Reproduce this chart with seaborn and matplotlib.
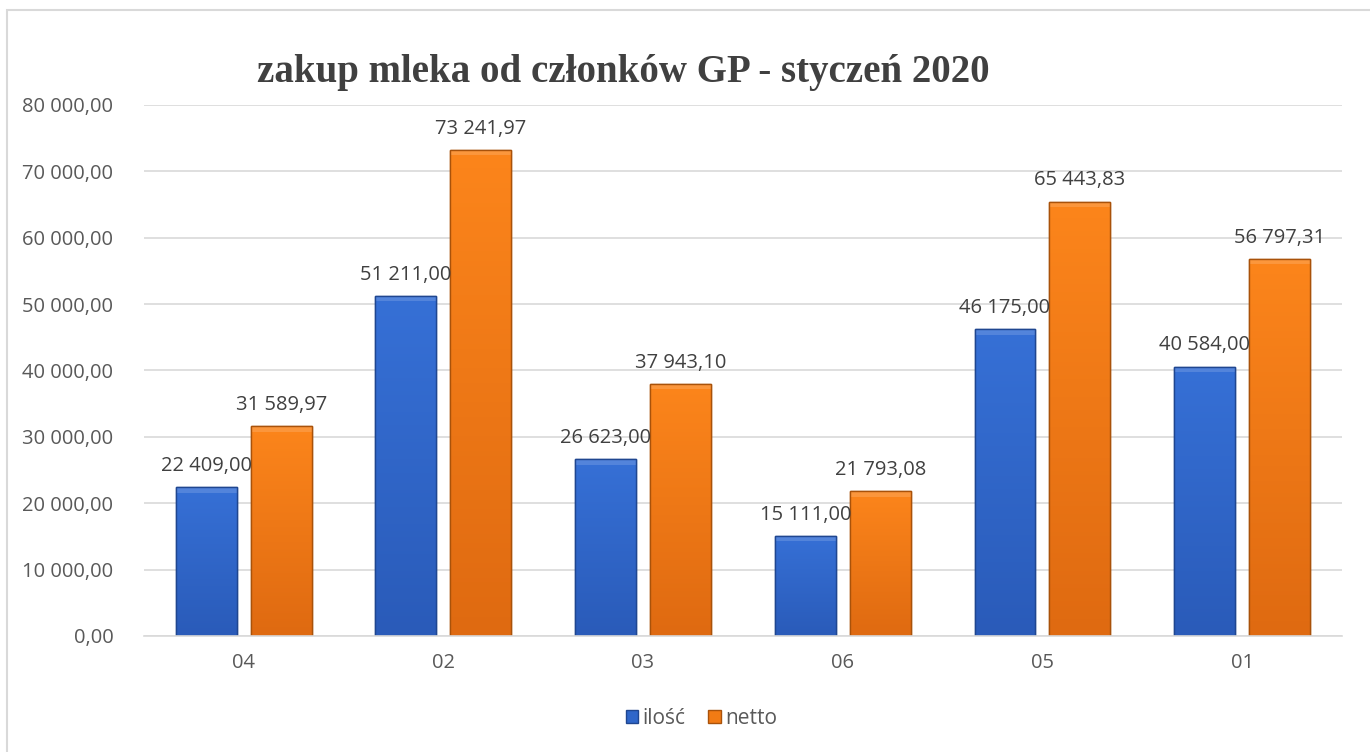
import numpy as np
import pandas as pd
import matplotlib
matplotlib.use('Agg')
import matplotlib.pyplot as plt
from matplotlib.patches import Rectangle
from matplotlib.colors import LinearSegmentedColormap
import seaborn as sns

# data
categories = ['04', '02', '03', '06', '05', '01']
ilosc = [22409.00, 51211.00, 26623.00, 15111.00, 46175.00, 40584.00]
netto = [31589.97, 73241.97, 37943.10, 21793.08, 65443.83, 56797.31]
series_names = ['ilość', 'netto']
y_ticks = [0, 10000, 20000, 30000, 40000, 50000, 60000, 70000, 80000]


def pl_fmt(v):
    s = f"{v:,.2f}"
    return s.replace(',', ' ').replace('.', ',')


df = pd.DataFrame({
    'kat': categories * 2,
    'seria': [series_names[0]] * len(categories) + [series_names[1]] * len(categories),
    'wartosc': ilosc + netto,
})

sns.set_theme(style='white')
plt.rcParams['font.family'] = ['Open Sans', 'DejaVu Sans']

fig = plt.figure(figsize=(13.7, 7.52), dpi=100)
ax = fig.add_axes([0.105, 0.1543, 0.8745, 0.7061])

palette = {'ilość': '#2F66C9', 'netto': '#F27B14'}
sns.barplot(data=df, x='kat', y='wartosc', hue='seria', order=categories,
            hue_order=series_names, palette=palette, width=0.75, gap=0.187,
            saturation=1, ax=ax, legend=False)

edge = {'ilość': '#1F4690', 'netto': '#A9520A'}
grad = {'ilość': ('#3670D6', '#2A5BB9'), 'netto': ('#FC851B', '#DF6A11')}
for cont, name in zip(ax.containers, series_names):
    cmap = LinearSegmentedColormap.from_list(name, [grad[name][1], grad[name][0]])
    for bar in cont:
        bar.set_edgecolor(edge[name])
        bar.set_linewidth(1.0)
        x0, y0 = bar.get_x(), bar.get_y()
        w, h = bar.get_width(), bar.get_height()
        img = ax.imshow(np.linspace(0, 1, 100).reshape(-1, 1), cmap=cmap,
                        extent=[x0, x0 + w, y0, y0 + h], origin='lower',
                        aspect='auto', zorder=bar.get_zorder() + 0.1)
        img.set_clip_path(bar)
        # top bevel highlight
        ax.add_patch(Rectangle((x0, y0 + h - 800), w, 800, facecolor='white',
                               alpha=0.15, linewidth=0, zorder=bar.get_zorder() + 0.2))
        # outline on top of gradient
        ax.add_patch(Rectangle((x0, y0), w, h, fill=False, edgecolor=edge[name],
                               linewidth=1.0, zorder=bar.get_zorder() + 0.3))
    labels = [pl_fmt(v) for v in cont.datavalues]
    ax.bar_label(cont, labels=labels, padding=8, fontsize=14.5, color='#404040')

ax.set_xlim(-0.5, len(categories) - 0.5)
ax.set_ylim(0, 80000)
ax.set_yticks(y_ticks)
ax.set_yticklabels([pl_fmt(v) for v in y_ticks], fontsize=14.5, color='#595959')
ax.tick_params(axis='x', labelsize=14.5, labelcolor='#595959', length=0, pad=12)
ax.tick_params(axis='y', length=0, pad=22)
ax.yaxis.grid(True, color='#D9D9D9', linewidth=1.2)
ax.set_axisbelow(True)
for side in ['top', 'right', 'left']:
    ax.spines[side].set_visible(False)
ax.spines['bottom'].set_color('#D9D9D9')
ax.spines['bottom'].set_linewidth(1.2)
ax.set_xlabel('')
ax.set_ylabel('')

fig.text(0.455, 0.903, 'zakup mleka od członków GP - styczeń 2020',
         ha='center', va='center', fontsize=28, fontweight='bold',
         family=['Liberation Serif', 'DejaVu Serif'], color='#404040')

# legend
handles = [Rectangle((0, 0), 1, 1, facecolor=palette[n], edgecolor=edge[n]) for n in series_names]
fig.legend(handles, series_names, loc='center', bbox_to_anchor=(0.512, 0.045),
           ncol=2, frameon=False, fontsize=15, handlelength=0.6, handleheight=0.6,
           handletextpad=0.2, columnspacing=1.1, labelcolor='#595959')

# outer chart border (only left and top edges fall inside the picture)
fig.patches.append(Rectangle((0.005, -0.1), 1.2, 0.1 + 0.987, transform=fig.transFigure,
                             fill=False, edgecolor='#D9D9D9', linewidth=1.5))

fig.savefig('out.png', dpi=100)
